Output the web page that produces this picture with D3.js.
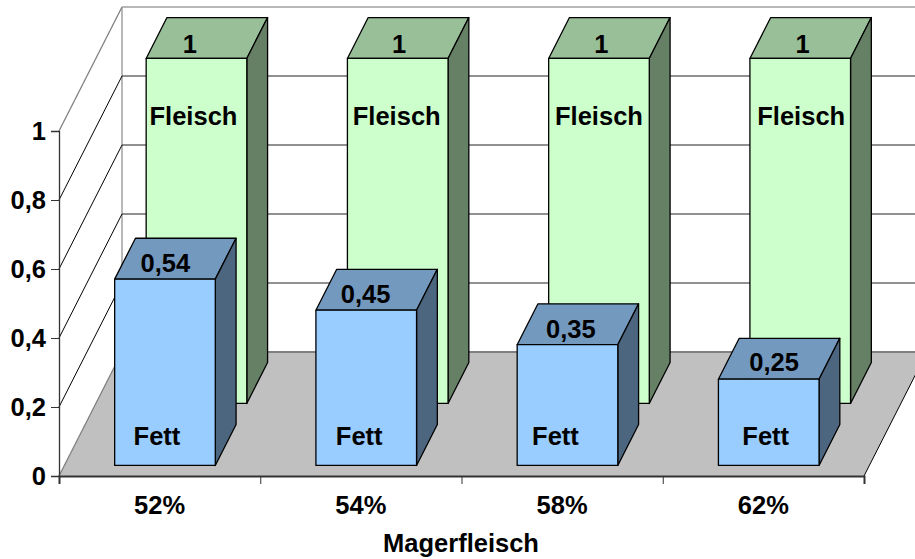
<!DOCTYPE html>
<html>
<head>
<meta charset="utf-8">
<script src="https://cdn.jsdelivr.net/npm/d3@7"></script>
<style>
  html, body { margin: 0; padding: 0; background: #fff; }
  svg { display: block; }
  text { font-family: "Liberation Sans", Arial, sans-serif; font-weight: bold; fill: #000; }
</style>
</head>
<body>
<div id="chart"></div>
<script>
var categories = ["52%", "54%", "58%", "62%"];
var fettValues = [0.54, 0.45, 0.35, 0.25];
var fleischValues = [1, 1, 1, 1];
var yTicks = [0, 0.2, 0.4, 0.6, 0.8, 1];
var rows = ["Fett", "Fleisch"];
var axisTitle = "Magerfleisch";

// the labels in the original were dragged by hand, so each one has its own nudge
var fettNudge = [-8, -7, -12, -3];
var valueNudge = [-10, -11, -7, -5];
var valueNudgeY = [2, 2, 3, 1];
var fleischNudge = [-3, -1, 0, 1];
var oneNudge = [-17, -9, -8, -8];

var width = 915, height = 559;
var depthX = 63, depthY = -124;
var fontSize = 25.5;

var x = d3.scaleBand().domain(categories).range([59, 864]).paddingInner(0.5).paddingOuter(0.25);
var y = d3.scaleLinear().domain([0, 1]).range([476, 131]);
var depth = d3.scaleBand().domain(rows).range([0, 1]).paddingInner(0.34).paddingOuter(0.17);

var svg = d3.select("#chart").append("svg")
  .attr("width", width)
  .attr("height", height);

// px = position on the front plane, v = value, d = 0..1 into the depth
function pt(px, v, d) {
  return [px + depthX * d, y(v) + depthY * d];
}

function poly(points, fill) {
  return svg.append("polygon")
    .attr("points", points.map(function (p) { return p.join(","); }).join(" "))
    .attr("fill", fill)
    .attr("stroke", "#000")
    .attr("stroke-width", 1.3)
    .attr("stroke-linejoin", "round");
}

function line(a, b, color, w) {
  svg.append("line")
    .attr("x1", a[0]).attr("y1", a[1])
    .attr("x2", b[0]).attr("y2", b[1])
    .attr("stroke", color)
    .attr("stroke-width", w);
}

var left = x.range()[0], right = x.range()[1];

// floor
svg.append("polygon")
  .attr("points", [pt(left, 0, 0), pt(left, 0, 1), pt(right, 0, 1), pt(right, 0, 0)].join(" "))
  .attr("fill", "#c0c0c0");
line(pt(left, 0, 0), pt(left, 0, 1), "#808080", 1.3);
line(pt(right, 0, 0), pt(right, 0, 1), "#000", 1);
line(pt(left, 0, 1), pt(right, 0, 1), "#808080", 2);

// walls
line(pt(left, 0, 1), pt(left, 1, 1), "#a0a0a0", 1.5);
line(pt(left, 1, 0), pt(left, 1, 1), "#808080", 1.3);
line(pt(left, 1, 1), pt(right, 1, 1), "#a0a0a0", 1.5);
yTicks.forEach(function (t) {
  if (t === 0 || t === 1) return;
  line(pt(left, t, 0), pt(left, t, 1), "#000", 1);
  line(pt(left, t, 1), pt(right, t, 1), "#222", 1);
});

function drawBar(cat, value, row, topFill, faceFill, sideFill) {
  var x0 = x(cat), x1 = x0 + x.bandwidth();
  var d0 = depth(row), d1 = d0 + depth.bandwidth();
  // value is measured from the floor at that depth, so y(v) is shifted with d
  poly([pt(x0, value, d0), pt(x0, value, d1), pt(x1, value, d1), pt(x1, value, d0)], topFill);
  poly([pt(x1, 0, d0), pt(x1, value, d0), pt(x1, value, d1), pt(x1, 0, d1)], sideFill);
  poly([pt(x0, 0, d0), pt(x0, value, d0), pt(x1, value, d0), pt(x1, 0, d0)], faceFill);
}

function label(str, px, py) {
  return svg.append("text")
    .attr("x", px)
    .attr("y", py)
    .attr("text-anchor", "middle")
    .attr("font-size", fontSize)
    .text(str);
}

function comma(v) {
  return String(v).replace(".", ",");
}

// back row first, the front row covers it
categories.forEach(function (cat, i) {
  drawBar(cat, fleischValues[i], "Fleisch", "#99bf99", "#ccffcc", "#668066");
  var d0 = depth("Fleisch");
  var top = pt(x(cat) + x.bandwidth() / 2, fleischValues[i], d0 + depth.bandwidth() / 2);
  label(comma(fleischValues[i]), top[0] + oneNudge[i], top[1] + 15);
  var face = pt(x(cat) + x.bandwidth() / 2, 0.8, d0);
  label("Fleisch", face[0] + fleischNudge[i], face[1] - 2);
});

categories.forEach(function (cat, i) {
  drawBar(cat, fettValues[i], "Fett", "#7399bf", "#99ccff", "#4d6680");
  var d0 = depth("Fett");
  var top = pt(x(cat) + x.bandwidth() / 2, fettValues[i], d0 + depth.bandwidth() / 2);
  label(comma(fettValues[i]), top[0] + valueNudge[i], top[1] + 11 + valueNudgeY[i]);
  var face = pt(x(cat) + x.bandwidth() / 2, 0, d0);
  label("Fett", face[0] + fettNudge[i], face[1] - 20);
});

// axes on the front plane
var yAxis = svg.append("g")
  .attr("transform", "translate(" + left + ",0)")
  .call(d3.axisLeft(y).tickValues(yTicks).tickSize(8).tickPadding(5).tickFormat(comma));
var xTickScale = d3.scalePoint().domain(d3.range(categories.length + 1)).range([left, right]);
var xAxis = svg.append("g")
  .attr("transform", "translate(0," + y(0) + ")")
  .call(d3.axisBottom(xTickScale).tickSize(8).tickFormat(""));

yAxis.selectAll("text").attr("font-size", fontSize).attr("font-family", null);
yAxis.selectAll("path").attr("stroke", "#333").attr("stroke-width", 1.3);
yAxis.selectAll("line").attr("stroke", "#333").attr("stroke-width", 1);
xAxis.selectAll("path").attr("stroke", "#333").attr("stroke-width", 2);
xAxis.selectAll("line").attr("stroke", "#333").attr("stroke-width", 1);

categories.forEach(function (cat) {
  label(cat, x(cat) + x.bandwidth() / 2, 514);
});
label(axisTitle, 461, 552);
</script>
</body>
</html>
